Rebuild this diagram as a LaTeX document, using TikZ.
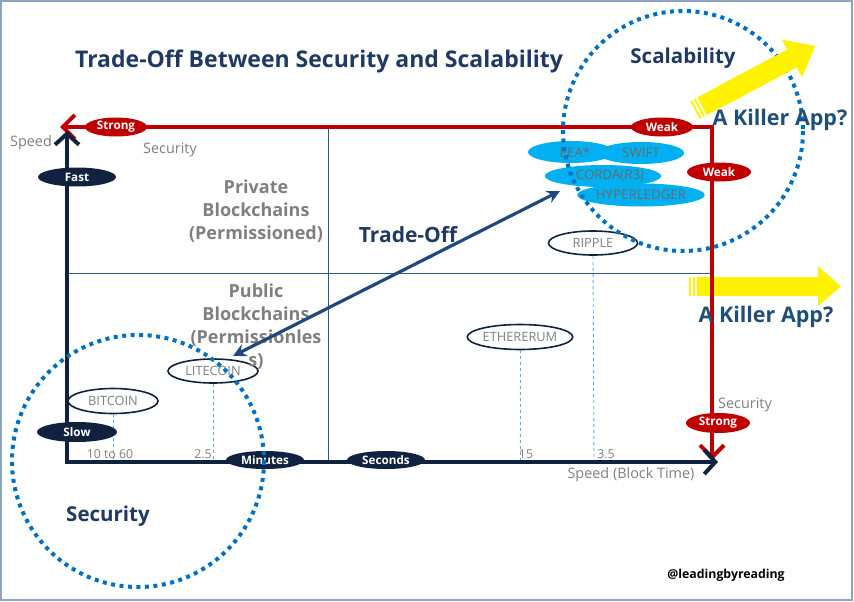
\documentclass[tikz,border=0pt]{standalone}
\usepackage{fontspec}
\setmainfont{Open Sans}
\usetikzlibrary{arrows.meta,shapes.geometric}

\definecolor{navy}{HTML}{10223F}
\definecolor{crimson}{HTML}{C00000}
\definecolor{headblue}{HTML}{1F3864}
\definecolor{appblue}{HTML}{1F4E79}
\definecolor{txtgray}{HTML}{7F7F7F}
\definecolor{chaingray}{HTML}{6A6A6A}
\definecolor{dotblue}{HTML}{0070C0}
\definecolor{skyblue}{HTML}{00B0F0}
\definecolor{gridblue}{HTML}{2F5597}
\definecolor{tradeblue}{HTML}{1F497D}
\definecolor{framegray}{HTML}{8FA4C2}

\newcommand{\fsz}[1]{\fontsize{#1}{#1}\selectfont}

\tikzset{
  redtag/.style={ellipse, fill=crimson, text=white, font=\bfseries\fsz{11.7}, inner sep=0pt, minimum width=62pt, minimum height=19pt},
  navytag/.style={ellipse, fill=navy, text=white, font=\bfseries\fsz{11.7}, inner sep=0pt, minimum width=78pt, minimum height=19pt},
  coin/.style={ellipse, draw=navy, line width=1.6pt, fill=white, text=txtgray, font=\fsz{12.8}, inner sep=0pt, minimum width=90pt, minimum height=25pt},
  chain/.style={ellipse, fill=skyblue, text=chaingray, font=\fsz{13.3}, inner sep=0pt, minimum width=88pt, minimum height=22pt},
  graytxt/.style={text=txtgray, font=\fsz{14.4}, inner sep=0pt},
  ticktxt/.style={text=txtgray, font=\fsz{12.3}, inner sep=0pt},
  bigtxt/.style={text=txtgray, font=\bfseries\fontsize{18}{23}\selectfont, align=center, inner sep=0pt},
  headtxt/.style={text=headblue, font=\bfseries\fsz{20.5}, inner sep=0pt},
  apptxt/.style={text=appblue, font=\bfseries\fsz{21.5}, inner sep=0pt},
  guide/.style={dashed, draw=dotblue!60, line width=0.9pt},
  ring/.style={draw=dotblue, line width=4pt, dash pattern=on 4pt off 4.5pt},
}

\begin{document}
\begin{tikzpicture}[x=1pt, y=-1pt]
    \useasboundingbox (0,0) rectangle (854,602);
    \draw[framegray, line width=2.5pt] (1.2,1.2) rectangle (852,600);

    \node[headtxt, font=\bfseries\fsz{23}] (title) at (319,61) {Trade-Off Between Security and Scalability};

    % grid
    \coordinate (O) at (67,462);
    \coordinate (ytip) at (67,131);
    \coordinate (xtip) at (718,462);
    \coordinate (redW) at (60,127);
    \coordinate (redC) at (712,127);
    \coordinate (redS) at (712,460);
    \draw[gridblue, line width=0.9pt] (328,127) -- (328,462);
    \draw[gridblue, line width=0.9pt] (67,273) -- (712,273);

    % yellow arrows
    \begin{scope}[shift={(695,110)}, rotate=28]
        \fill[yellow] (8,-10) -- (110,-10) -- (110,-21) -- (136,0) -- (110,21) -- (110,10) -- (8,10) -- cycle;
        \fill[yellow] (0,-10) rectangle (2,10);
        \fill[yellow] (4,-10) rectangle (6,10);
    \end{scope}
    \fill[yellow] (697,277) -- (818,277) -- (818,266) -- (841,286.5) -- (818,306) -- (818,296) -- (697,296) -- cycle;
    \fill[yellow] (689,277) rectangle (691,296);
    \fill[yellow] (693,277) rectangle (695,296);

    % coins
    \node[coin] (bitcoin) at (113,401) {BITCOIN};
    \node[coin, minimum height=24pt] (litecoin) at (213,371) {LITECOIN};
    \node[coin] (ethereum) at (520,337) {ETHERERUM};
    \node[coin, minimum width=89pt, minimum height=24pt] (ripple) at (593,243) {RIPPLE};
    \draw[guide] (bitcoin.south) -- (113,460);
    \draw[guide] (litecoin.south) -- (213,460);
    \draw[guide] (ethereum.south) -- (520,460);
    \draw[guide] (ripple.south) -- (594,460);
    \node[ticktxt] (t1) at (110,454) {10 to 60};
    \node[ticktxt] (t2) at (203,454) {2.5};
    \node[ticktxt] (t3) at (526,454) {15};
    \node[ticktxt] (t4) at (606,454) {3.5};

    % axes
    \draw[crimson, line width=4pt, {Straight Barb[length=12pt,width=24pt]}-{Straight Barb[length=12pt,width=24pt]}] (redW) -- (redC) -- (redS);
    \draw[navy, line width=4pt, {Straight Barb[length=11pt,width=24pt]}-{Straight Barb[length=11pt,width=24pt]}] (ytip) -- (O) -- (xtip);

    \node[graytxt] (speedlbl) at (31,143) {Speed};
    \node[graytxt] (seclbl) at (170,150) {Security};
    \node[graytxt] (seclbl2) at (745,405) {Security};
    \node[graytxt] (blocklbl) at (631,475) {Speed (Block Time)};

    \node[redtag] (strongW) at (116,127) {Strong};
    \node[redtag] (weakN) at (662,127) {Weak};
    \node[redtag, minimum width=64pt] (weakE) at (719,172) {Weak};
    \node[redtag, minimum width=64pt, minimum height=20pt] (strongS) at (718,423) {Strong};
    \node[navytag] (fast) at (77,177) {Fast};
    \node[navytag, minimum width=80pt, minimum height=20pt] (slow) at (77,432) {Slow};
    \node[navytag, minimum height=18pt] (minutes) at (265,460) {Minutes};
    \node[navytag, minimum height=18pt] (seconds) at (386,460) {Seconds};

    \node[bigtxt] (private) at (256,211) {Private\\Blockchains\\(Permissioned)};
    \node[bigtxt] (public) at (256,327) {Public\\Blockchains\\(Permissionles\\s)};
    \node[headtxt, font=\bfseries\fsz{21}] (tradeoff) at (408,235) {Trade-Off};

    \node[chain, minimum width=86pt] (eea) at (571,152) {\hspace*{8pt}EEA*};
    \node[chain, minimum width=86pt] (swift) at (641,153) {SWIFT};
    \node[chain] (corda) at (603,176) {\hspace*{14pt}CORDA(R3)};
    \node[chain, minimum width=92pt, minimum height=23pt] (hyper) at (641,195) {HYPERLEDGER};

    \coordinate (pubend) at (233,356);
    \coordinate (privend) at (560,191);
    \draw[tradeblue, line width=3.2pt, {Stealth[length=13pt,width=13pt]}-{Stealth[length=13pt,width=13pt]}] (pubend) -- (privend);

    % circles
    \draw[ring] (138,461) circle[radius=126];
    \draw[ring] (683,131) circle[radius=120];
    \begin{scope}[shift={(695,110)}, rotate=28]
        \fill[yellow] (30,-10) -- (110,-10) -- (110,-21) -- (136,0) -- (110,21) -- (110,10) -- (30,10) -- cycle;
    \end{scope}

    \node[headtxt] (scal) at (683,58) {Scalability};
    \node[headtxt] (secu) at (108,516) {Security};
    \node[apptxt] (app1) at (780,120) {A Killer App?};
    \node[apptxt] (app2) at (766,317) {A Killer App?};
    \node[font=\bfseries\fsz{12.3}, inner sep=0pt] (handle) at (726,575) {@leadingbyreading};
\end{tikzpicture}
\end{document}
